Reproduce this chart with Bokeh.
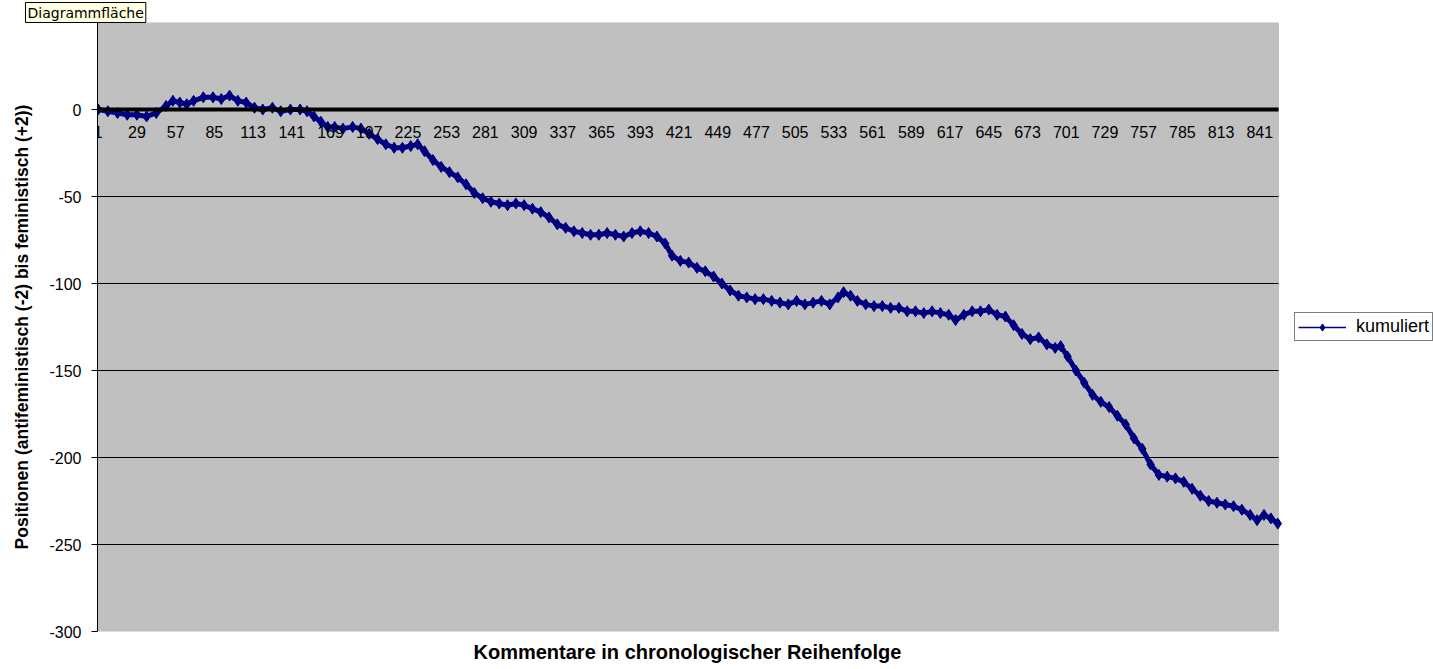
from bokeh.plotting import figure
from bokeh.models import FixedTicker, LinearAxis, Range1d, Legend, LegendItem, BoxAnnotation, Title
from bokeh.embed import file_html
from bokeh.resources import INLINE

# comment index (chronological) and cumulative position
idx = [1, 8, 15, 22, 29, 36, 43, 50, 55, 60, 65, 70, 77, 84, 90, 96, 102, 108, 114, 120,
       127, 133, 140, 147, 152, 157, 162, 167, 172, 178, 185, 191, 197, 203, 209, 215, 221,
       227, 232, 237, 243, 249, 255, 261, 267, 273, 279, 285, 291, 297, 303, 309, 315, 321,
       327, 333, 339, 345, 351, 357, 363, 369, 375, 381, 387, 393, 399, 405, 411, 416, 422,
       428, 434, 440, 446, 452, 458, 464, 470, 476, 482, 488, 494, 500, 506, 512, 518, 524,
       530, 536, 540, 545, 550, 556, 562, 568, 574, 580, 586, 592, 598, 604, 610, 616, 621,
       627, 633, 639, 645, 651, 657, 663, 669, 675, 681, 687, 693, 697, 702, 708, 714, 720,
       726, 732, 738, 744, 750, 756, 762, 768, 774, 780, 786, 792, 798, 804, 810, 816, 822,
       828, 834, 839, 844, 849, 854]
kumuliert = [0, -1, -2, -3, -3, -4, -2, 2, 5, 4, 3, 5, 7, 7, 6, 8, 5, 4, 1, 0,
             1, -1, 0, 0, -1, -4, -7, -10, -10, -11, -10, -11, -14, -17, -20, -22, -22,
             -21, -20, -24, -29, -33, -36, -39, -43, -48, -51, -53, -54, -55, -54, -55, -57, -59,
             -62, -66, -68, -70, -71, -72, -72, -71, -72, -73, -71, -70, -71, -73, -77, -84, -87,
             -88, -91, -93, -96, -100, -104, -107, -108, -109, -109, -110, -111, -112, -110, -112, -111, -110,
             -112, -108, -105, -107, -110, -112, -113, -113, -114, -114, -116, -116, -117, -116, -117, -118, -121,
             -118, -116, -116, -115, -118, -119, -124, -129, -132, -131, -135, -137, -136, -142, -150, -157, -164,
             -168, -171, -176, -181, -189, -195, -204, -210, -211, -212, -214, -218, -222, -225, -226, -227, -228,
             -230, -233, -236, -233, -235, -238]

n_comments = 854
x_tick_values = list(range(1, n_comments + 1, 28))
y_tick_values = [-300, -250, -200, -150, -100, -50, 0]
y_top = 50

FONT = "Liberation Sans"
NAVY = "#000080"

W, H = 1433, 669
BL, BT, BB = 97, 19, 38
PLOT_W = 1181                      # width of the grey plot area in px
FRAME_W = W - BL                   # frame extends to the right edge (legend lives there)
x_lo = 0.5
x_hi_plot = n_comments + 0.5
x_hi_frame = x_lo + (x_hi_plot - x_lo) * FRAME_W / PLOT_W

p = figure(width=W, height=H, output_backend="svg", toolbar_location=None,
           x_range=Range1d(x_lo, x_hi_frame), y_range=Range1d(-300, y_top),
           x_axis_location=None, y_axis_location="left",
           min_border_left=BL, min_border_right=0, min_border_top=BT, min_border_bottom=BB)

p.background_fill_color = "white"
p.border_fill_color = "white"
p.outline_line_color = None

# grey plot area
area = BoxAnnotation(left=x_lo, right=x_hi_plot, bottom=-300, top=y_top,
                     fill_color="#C0C0C0", fill_alpha=1, line_color="#808080",
                     line_width=1, level="underlay")
p.add_layout(area)

# horizontal grid lines limited to the plot area
grid_y = [v for v in y_tick_values if v != -300]
p.segment(x0=[x_lo] * len(grid_y), x1=[x_hi_plot] * len(grid_y), y0=grid_y, y1=grid_y,
          line_color="black", line_width=1)
p.xgrid.visible = False
p.ygrid.visible = False

# tooltip-like caption at top left
p.title.text = "Diagrammfläche"
p.title.align = "left"
p.title.offset = -72
p.title.standoff = 0
p.title.text_font = "DejaVu Sans"
p.title.text_font_style = "normal"
p.title.text_font_size = "14px"
p.title.text_color = "black"
p.title.background_fill_color = "#FFFFE1"
p.title.border_line_color = "black"
p.title.padding = 2

# y axis
ya = p.yaxis[0]
ya.ticker = FixedTicker(ticks=y_tick_values)
ya.major_label_overrides = {v: str(v) for v in y_tick_values}
ya.axis_line_color = "black"
ya.major_tick_line_color = "black"
ya.major_tick_out = 6
ya.major_tick_in = 0
ya.minor_tick_line_color = None
ya.major_label_text_font = FONT
ya.major_label_text_font_size = "16px"
ya.major_label_text_color = "black"
ya.major_label_standoff = 10
ya.axis_label = "Positionen (antifeministisch (-2) bis feministisch (+2))"
ya.axis_label_text_font = FONT
ya.axis_label_text_font_style = "bold"
ya.axis_label_text_font_size = "17.5px"
ya.axis_label_text_color = "black"
ya.axis_label_standoff = 14

# category axis crossing at 0
xa = LinearAxis(fixed_location=0, ticker=FixedTicker(ticks=x_tick_values),
                bounds=(x_lo, x_hi_plot))
xa.axis_line_color = "black"
xa.axis_line_width = 4
xa.major_tick_line_color = None
xa.major_tick_out = 0
xa.major_tick_in = 0
xa.minor_tick_line_color = None
xa.major_label_text_font = FONT
xa.major_label_text_font_size = "16px"
xa.major_label_text_color = "black"
xa.major_label_standoff = 16
p.add_layout(xa, "below")

# axis title at the bottom, under the grey plot area
xtitle = Title(text="Kommentare in chronologischer Reihenfolge", align="left",
               offset=376, standoff=14, vertical_align="bottom",
               text_font=FONT, text_font_style="bold", text_font_size="20px",
               text_color="black")
p.add_layout(xtitle, "below")

# thin legend glyphs (hidden underneath the main series)
leg_line = p.line(idx, kumuliert, line_color=NAVY, line_width=1.5)
leg_mark = p.scatter(idx, kumuliert, marker="diamond", size=9, fill_color=NAVY, line_color=NAVY)

p.line(idx, kumuliert, line_color=NAVY, line_width=5)
p.scatter(idx, kumuliert, marker="diamond", size=11, fill_color=NAVY, line_color=NAVY)

legend = Legend(items=[LegendItem(label="kumuliert", renderers=[leg_line, leg_mark])],
                location=(1197, 290))
legend.border_line_color = "black"
legend.border_line_width = 1
legend.background_fill_color = "white"
legend.background_fill_alpha = 1
legend.label_text_font = FONT
legend.label_text_font_size = "18px"
legend.label_text_color = "black"
legend.glyph_width = 48
legend.glyph_height = 18
legend.label_height = 18
legend.label_standoff = 10
legend.padding = 3
legend.margin = 0
legend.spacing = 0
p.add_layout(legend)

open("out.html", "w").write(file_html(p, INLINE))
